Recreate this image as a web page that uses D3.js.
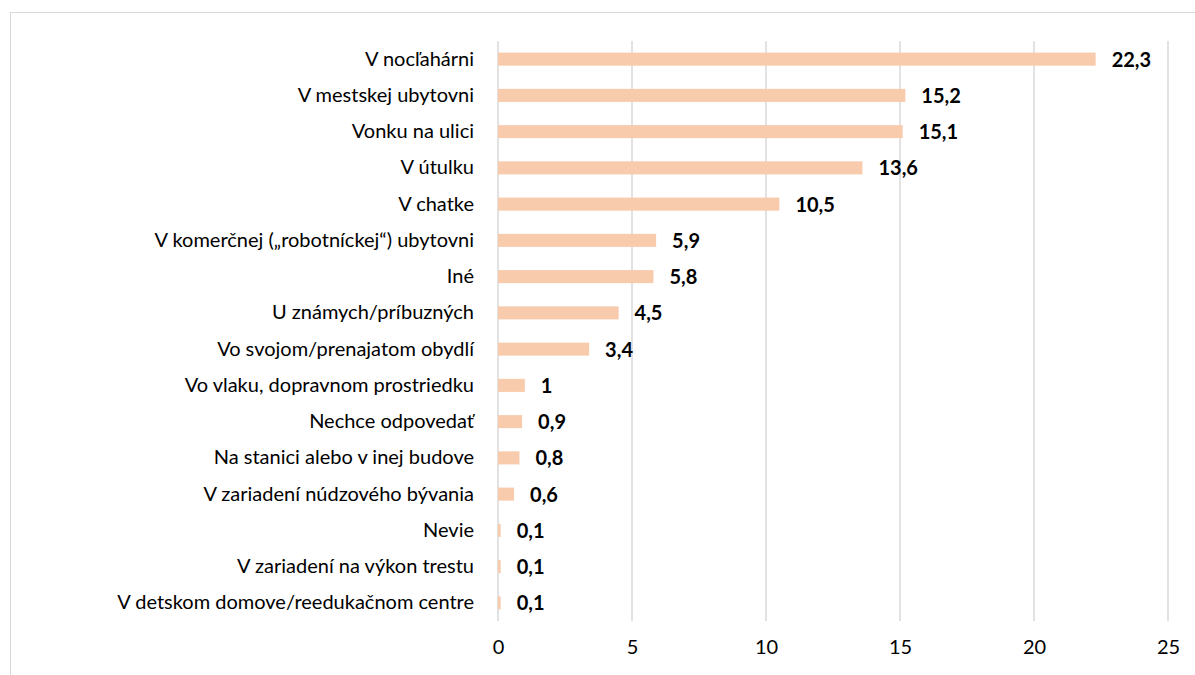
<!DOCTYPE html>
<html>
<head>
<meta charset="utf-8">
<script src="https://cdn.jsdelivr.net/npm/d3@7"></script>
<style>
  body { margin: 0; background: #fff; }
  svg text { font-family: "Lato", "Liberation Sans", sans-serif; }
</style>
</head>
<body>
<div id="chart"></div>
<script>
// data
var categories = [
  "V nocľahárni",
  "V mestskej ubytovni",
  "Vonku na ulici",
  "V útulku",
  "V chatke",
  "V komerčnej („robotníckej“) ubytovni",
  "Iné",
  "U známych/príbuzných",
  "Vo svojom/prenajatom obydlí",
  "Vo vlaku, dopravnom prostriedku",
  "Nechce odpovedať",
  "Na stanici alebo v inej budove",
  "V zariadení núdzového bývania",
  "Nevie",
  "V zariadení na výkon trestu",
  "V detskom domove/reedukačnom centre"
];
var values = [22.3, 15.2, 15.1, 13.6, 10.5, 5.9, 5.8, 4.5, 3.4, 1, 0.9, 0.8, 0.6, 0.1, 0.1, 0.1];
var xTicks = [0, 5, 10, 15, 20, 25];

var width = 1195, height = 675;
var margin = { top: 41, right: 27, bottom: 54, left: 498 };
var chartWidth = width - margin.left - margin.right;
var chartHeight = height - margin.top - margin.bottom;

var svg = d3.select("#chart")
  .append("svg")
  .attr("width", width)
  .attr("height", height);

// outer frame
svg.append("rect")
  .attr("x", 10.5)
  .attr("y", 12.5)
  .attr("width", width)
  .attr("height", height)
  .attr("fill", "none")
  .attr("stroke", "#d9d9d9");

var chartGroup = svg.append("g")
  .attr("transform", `translate(${margin.left}, ${margin.top})`);

var xScale = d3.scaleLinear()
  .domain([0, 25])
  .range([0, chartWidth]);

var yScale = d3.scaleBand()
  .domain(categories)
  .range([0, chartHeight])
  .paddingInner(0.64)
  .paddingOuter(0.32);

// gridlines
chartGroup.selectAll(".grid")
  .data(xTicks)
  .enter()
  .append("line")
  .attr("class", "grid")
  .attr("x1", d => xScale(d))
  .attr("x2", d => xScale(d))
  .attr("y1", 0)
  .attr("y2", chartHeight)
  .attr("stroke", "#d9d9d9")
  .attr("stroke-width", 1.5);

// x axis labels
var bottomAxis = d3.axisBottom(xScale).tickValues(xTicks).tickSize(0).tickPadding(19);
var xAxisG = chartGroup.append("g")
  .attr("transform", `translate(0, ${chartHeight})`)
  .call(bottomAxis);
xAxisG.select(".domain").remove();
xAxisG.selectAll("text")
  .attr("font-size", "20px")
  .attr("font-family", "Lato, 'Liberation Sans', sans-serif")
  .attr("fill", "#000");

// category labels
var leftAxis = d3.axisLeft(yScale).tickSize(0).tickPadding(24);
var yAxisG = chartGroup.append("g").call(leftAxis);
yAxisG.select(".domain").remove();
yAxisG.selectAll("text")
  .attr("font-size", "20px")
  .attr("font-family", "Lato, 'Liberation Sans', sans-serif")
  .attr("fill", "#000");

// bars
chartGroup.selectAll(".bar")
  .data(values)
  .enter()
  .append("rect")
  .attr("class", "bar")
  .attr("x", 0)
  .attr("y", (d, i) => yScale(categories[i]))
  .attr("width", d => xScale(d))
  .attr("height", yScale.bandwidth())
  .attr("fill", "#f8cbad");

// value labels
chartGroup.selectAll(".val")
  .data(values)
  .enter()
  .append("text")
  .attr("class", "val")
  .attr("x", d => xScale(d) + 16)
  .attr("y", (d, i) => yScale(categories[i]) + yScale.bandwidth() / 2)
  .attr("dy", "0.38em")
  .attr("font-size", "20px")
  .attr("font-weight", "bold")
  .attr("fill", "#000")
  .text(d => String(d).replace(".", ","));
</script>
</body>
</html>
